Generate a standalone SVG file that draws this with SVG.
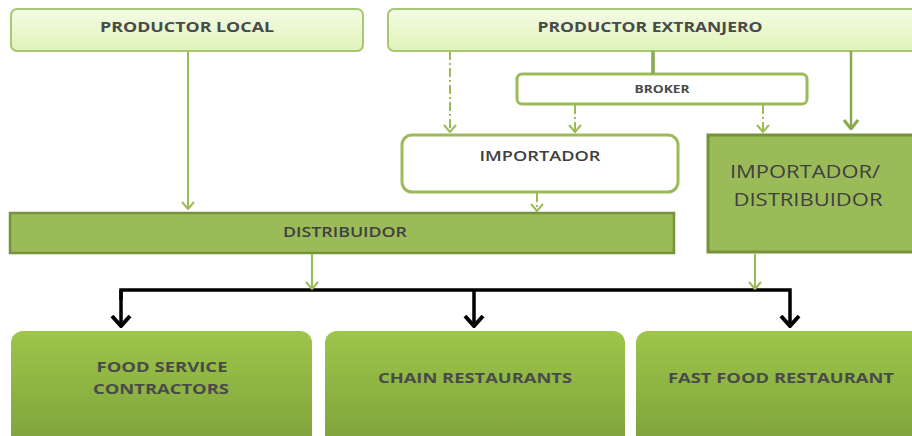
<svg xmlns="http://www.w3.org/2000/svg" width="912" height="436" viewBox="0 0 912 436">
<defs>
<linearGradient id="gTop" x1="0" y1="0" x2="0" y2="1">
<stop offset="0" stop-color="#f4fbe6"/>
<stop offset="1" stop-color="#dff4b8"/>
</linearGradient>
<linearGradient id="gBot" x1="0" y1="0" x2="0" y2="1">
<stop offset="0" stop-color="#9dc64a"/>
<stop offset="1" stop-color="#7da03a"/>
</linearGradient>
<marker id="ag" viewBox="0 0 14 10" refX="7" refY="9" markerWidth="14" markerHeight="10" markerUnits="userSpaceOnUse">
<path d="M1,2 L7,9 L13,2" fill="none" stroke="#9bbb59" stroke-width="2"/>
</marker>
<marker id="agd" viewBox="0 0 16 12" refX="8" refY="11" markerWidth="16" markerHeight="12" markerUnits="userSpaceOnUse">
<path d="M1,2 L8,11 L15,2" fill="none" stroke="#8aa84f" stroke-width="3"/>
</marker>
<marker id="ab" viewBox="0 0 22 14" refX="11" refY="13" markerWidth="22" markerHeight="14" markerUnits="userSpaceOnUse">
<path d="M2,2 L11,12 L20,2" fill="none" stroke="#000" stroke-width="4"/>
</marker>
</defs>
<style>
.top{fill:url(#gTop);stroke:#a6c873;stroke-width:2}
.bot{fill:url(#gBot);stroke:none}
.t{font-family:"Open Sans","Liberation Sans",sans-serif;font-weight:bold;fill:#4a4a4a;text-anchor:middle}
.r{font-family:"Open Sans","Liberation Sans",sans-serif;fill:#404040;text-anchor:middle}
.gl{fill:none;stroke:#9bbb59;stroke-width:2}
.dd{fill:none;stroke:#9bbb59;stroke-width:2;stroke-dasharray:9 3 2 3}
.bk{fill:none;stroke:#000;stroke-width:3.5}
</style>
<g id="productor-local">
<rect class="top" x="11" y="9" width="352" height="42" rx="6"/>
<text class="t" x="187" y="32" font-size="15" textLength="174" lengthAdjust="spacingAndGlyphs">PRODUCTOR LOCAL</text>
</g>
<g id="productor-extranjero">
<rect class="top" x="388" y="9" width="540" height="42" rx="6"/>
<text class="t" x="650" y="32" font-size="15" textLength="225" lengthAdjust="spacingAndGlyphs">PRODUCTOR EXTRANJERO</text>
</g>
<g id="broker">
<rect x="517" y="74" width="290" height="30" rx="5" fill="#fff" stroke="#9bbb59" stroke-width="3"/>
<text class="t" x="662" y="93" font-size="11" fill="#222" textLength="55" lengthAdjust="spacingAndGlyphs">BROKER</text>
</g>
<g id="importador">
<rect x="402" y="135" width="276" height="57" rx="10" fill="#fff" stroke="#9bbb59" stroke-width="3"/>
<text class="r" x="540" y="161" font-size="14" font-weight="600" textLength="121" lengthAdjust="spacingAndGlyphs">IMPORTADOR</text>
</g>
<g id="importador-distribuidor">
<rect x="708" y="135" width="220" height="117" fill="#9bbb59" stroke="#76923c" stroke-width="3"/>
<text class="r" x="805" y="178" font-size="18" textLength="150" lengthAdjust="spacingAndGlyphs">IMPORTADOR/</text>
<text class="r" x="808" y="206" font-size="18" textLength="149" lengthAdjust="spacingAndGlyphs">DISTRIBUIDOR</text>
</g>
<g id="distribuidor">
<rect x="10" y="213" width="664" height="40" fill="#9bbb59" stroke="#76923c" stroke-width="2.5"/>
<text class="r" x="345" y="237" font-size="14" font-weight="600" textLength="124" lengthAdjust="spacingAndGlyphs">DISTRIBUIDOR</text>
</g>
<g id="food-service">
<rect class="bot" x="11" y="331" width="301" height="120" rx="12"/>
<text class="t" x="162" y="372" font-size="15" textLength="131" lengthAdjust="spacingAndGlyphs">FOOD SERVICE</text>
<text class="t" x="161" y="394" font-size="15" textLength="136" lengthAdjust="spacingAndGlyphs">CONTRACTORS</text>
</g>
<g id="chain-restaurants">
<rect class="bot" x="325" y="331" width="300" height="120" rx="12"/>
<text class="t" x="475" y="383" font-size="15" textLength="194" lengthAdjust="spacingAndGlyphs">CHAIN RESTAURANTS</text>
</g>
<g id="fast-food">
<rect class="bot" x="636" y="331" width="300" height="120" rx="12"/>
<text class="t" x="781" y="383" font-size="15" textLength="226" lengthAdjust="spacingAndGlyphs">FAST FOOD RESTAURANT</text>
</g>
<g id="connectors">
<line class="gl" x1="188" y1="51" x2="188" y2="209" marker-end="url(#ag)"/>
<line class="dd" x1="450" y1="51" x2="450" y2="132" marker-end="url(#ag)"/>
<line x1="653" y1="51" x2="653" y2="74" stroke="#8aa84f" stroke-width="3.5"/>
<line class="dd" x1="575" y1="105" x2="575" y2="132" marker-end="url(#ag)"/>
<line class="dd" x1="763" y1="105" x2="763" y2="132" marker-end="url(#ag)"/>
<line x1="851" y1="51" x2="851" y2="129" stroke="#8aa84f" stroke-width="2.5" marker-end="url(#agd)"/>
<line class="dd" x1="537" y1="193" x2="537" y2="211" marker-end="url(#ag)"/>
<polyline class="bk" points="121,300 121,290 790,290 790,327" marker-end="url(#ab)"/>
<line class="bk" x1="121" y1="290" x2="121" y2="327" marker-end="url(#ab)"/>
<line class="bk" x1="474" y1="290" x2="474" y2="327" marker-end="url(#ab)"/>
<line class="gl" x1="312" y1="254" x2="312" y2="289" marker-end="url(#ag)"/>
<line class="gl" x1="755" y1="254" x2="755" y2="289" marker-end="url(#ag)"/>
</g>
</svg>
